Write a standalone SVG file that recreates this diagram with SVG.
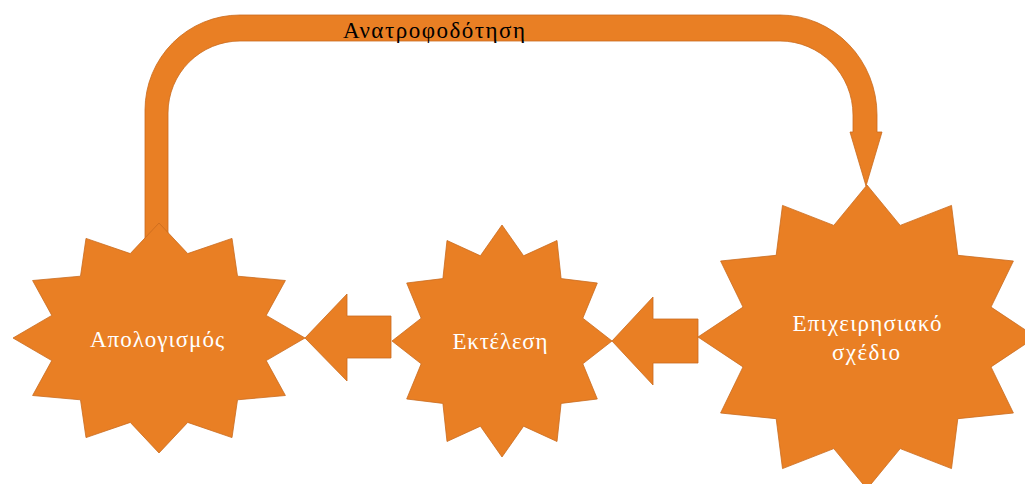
<svg xmlns="http://www.w3.org/2000/svg" width="1025" height="484" viewBox="0 0 1025 484">
<style>
.shape{fill:#E97F24;stroke:#C96B1E;stroke-width:0.8;stroke-linejoin:miter}
.lbl{font-family:"Liberation Serif","DejaVu Serif",serif;font-size:23px;fill:#FFFFFF;text-anchor:middle}
.cap{font-family:"Liberation Serif","DejaVu Serif",serif;font-size:23px;fill:#000000}
</style>
<rect width="1025" height="484" fill="#FFFFFF"/>
<g id="connectors">
<path class="shape" d="M145,245 L145,110 A95,95 0 0 1 240,15 L780,15 A97,100 0 0 1 877,115 L877,132 L882,132 L866,186 L850,132 L853,132 L853,115 A73,74 0 0 0 780,41 L240,41 A72,72 0 0 0 168,113 L168,245 Z"/>
<path class="shape" d="M305,338 L347,294 L347,316 L391,316 L391,358 L347,358 L347,381 Z"/>
<path class="shape" d="M612,341 L653,297 L653,319 L698,319 L698,363 L653,363 L653,385 Z"/>
<text class="cap" x="343" y="38" textLength="182" lengthAdjust="spacing">Ανατροφοδότηση</text>
</g>
<g id="node-apologismos">
<polygon class="shape" points="159,223 187.7,253.6 232,238.4 237.5,276.2 285.4,280.5 266.2,315.4 305,338 266.2,360.6 285.4,395.5 237.5,399.8 232,437.6 187.7,422.4 159,453 130.3,422.4 86,437.6 80.5,399.8 32.6,395.5 51.8,360.6 13,338 51.8,315.4 32.6,280.5 80.5,276.2 86,238.4 130.3,253.6"/>
<text class="lbl" x="157" y="347" textLength="134" lengthAdjust="spacing">Απολογισμός</text>
</g>
<g id="node-ektelesi">
<polygon class="shape" points="502,225 523.6,255.8 557,240.5 561.1,278.6 597.3,283 582.8,318.2 612,341 582.8,363.8 597.3,399 561.1,403.4 557,441.5 523.6,426.2 502,457 480.4,426.2 447,441.5 442.9,403.4 406.7,399 421.2,363.8 392,341 421.2,318.2 406.7,283 442.9,278.6 447,240.5 480.4,255.8"/>
<text class="lbl" x="500" y="349" textLength="95" lengthAdjust="spacing">Εκτέλεση</text>
</g>
<g id="node-epixeirisiako">
<polygon class="shape" points="867,185 900.2,225.4 951.5,205.4 957.8,255.3 1013.4,261 991,307.1 1036,337 991,366.9 1013.4,413 957.8,418.7 951.5,468.6 900.2,448.6 867,489 833.8,448.6 782.5,468.6 776.2,418.7 720.6,413 743,366.9 698,337 743,307.1 720.6,261 776.2,255.3 782.5,205.4 833.8,225.4"/>
<text class="lbl" x="867" y="331" textLength="149" lengthAdjust="spacing">Επιχειρησιακό</text>
<text class="lbl" x="866" y="360" textLength="68" lengthAdjust="spacing">σχέδιο</text>
</g>
</svg>
